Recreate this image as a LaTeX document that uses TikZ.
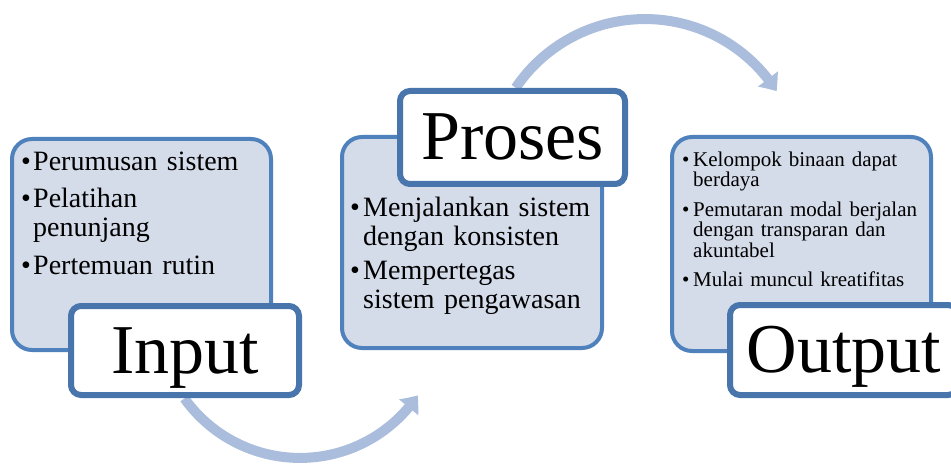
\documentclass[tikz,border=0pt]{standalone}
\usepackage{fontspec}
\setmainfont{Liberation Serif}
\usetikzlibrary{arrows.meta,bending,shadows}
\definecolor{boxfill}{HTML}{D4DBE9}
\definecolor{boxline}{HTML}{4F81BD}
\definecolor{lblline}{HTML}{4775AC}
\definecolor{arrowc}{HTML}{AABDDC}
\newcommand{\bitem}[2]{\par\hangindent=#1\hangafter=1\noindent\hbox to #1{\textbullet\hss}#2}
\tikzset{
  lightbox/.style={draw=boxline, line width=4pt, fill=boxfill, rounded corners=20pt, inner sep=0pt},
  lblbox/.style={draw=lblline, line width=6pt, fill=white, rounded corners=10pt, inner sep=0pt,
                 font=\fontsize{70}{70}\selectfont, text height=45pt, text depth=0pt,
                 drop shadow={opacity=0.18, shadow xshift=1.5pt, shadow yshift=-2.5pt}},
  itemtext/.style={anchor=north west, inner sep=0pt, text width=300pt},
  flow/.style={draw=arrowc, line width=10pt, -{Triangle[width=24pt,length=15pt,bend]}}
}
\begin{document}
\begin{tikzpicture}[x=1pt,y=1pt]
\useasboundingbox (0,0) rectangle (951,-468);
\clip (0,0) rectangle (951,-468);
% arrows
\coordinate (a1s) at (184.4,-398.4);
\coordinate (a2s) at (515.7,-87.8);
\draw[flow] (a1s) arc[start angle=215.5, end angle=326, radius=142];
\draw[flow] (a2s) arc[start angle=146, end angle=32.5, radius=156];
% light boxes
\node[lightbox, minimum width=259pt, minimum height=211pt] (inbox) at (141.5,-244.5) {};
\node[lightbox, minimum width=260pt, minimum height=211pt] (prbox) at (472,-242.5) {};
\node[lightbox, minimum width=259pt, minimum height=214pt] (outbox) at (801.5,-244) {};
% texts
\node[itemtext, font=\fontsize{28}{29}\selectfont] (intext) at (21,-141) {\raggedright\parskip=0pt
  \bitem{12pt}{\parskip=8.5pt Perumusan sistem}
  \bitem{12pt}{Pelatihan\hfil\break penunjang}
  \bitem{12pt}{Pertemuan rutin}\par};
\node[itemtext, font=\fontsize{28}{29}\selectfont] (prtext) at (350,-187) {\raggedright\parskip=0pt
  \bitem{13pt}{\parskip=5pt Menjalankan sistem\hfil\break dengan konsisten}
  \bitem{13pt}{Mempertegas\hfil\break sistem pengawasan}\par};
\node[itemtext, font=\fontsize{21}{20.5}\selectfont] (outtext) at (682,-145.5) {\raggedright\parskip=0pt
  \bitem{11pt}{\parskip=9pt Kelompok binaan dapat\hfil\break berdaya}
  \bitem{11pt}{Pemutaran modal berjalan\hfil\break dengan transparan dan\hfil\break akuntabel}
  \bitem{11pt}{Mulai muncul kreatifitas}\par};
% label boxes
\node[lblbox, minimum width=228pt, minimum height=89pt] (inlbl) at (185,-350.5) {Input};
\node[lblbox, minimum width=225pt, minimum height=93pt] (prlbl) at (512.5,-137.5) {Proses};
\node[lblbox, minimum width=228pt, minimum height=90pt] (outlbl) at (844,-350) {Output};
\end{tikzpicture}
\end{document}
